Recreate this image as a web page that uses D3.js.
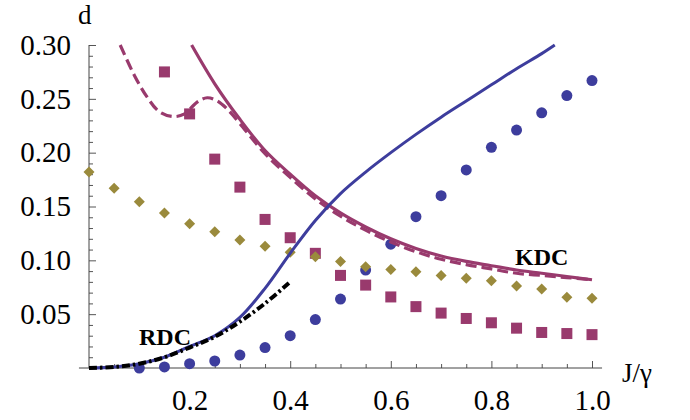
<!DOCTYPE html>
<html>
<head>
<meta charset="utf-8">
<script src="https://cdn.jsdelivr.net/npm/d3@7"></script>
<style>
  body { margin: 0; background: #fff; }
  svg text { font-family: "Liberation Serif", "DejaVu Serif", serif; }
</style>
</head>
<body>
<div id="chart"></div>
<script>
// data
const xTickVals = [0.2, 0.4, 0.6, 0.8, 1.0];
const xTickLabels = ['0.2', '0.4', '0.6', '0.8', '1.0'];
const yTickVals = [0.05, 0.10, 0.15, 0.20, 0.25, 0.30];
const yTickLabels = ['0.05', '0.10', '0.15', '0.20', '0.25', '0.30'];

// blue circles
const circleX = [0.1, 0.15, 0.2, 0.25, 0.3, 0.35, 0.4, 0.45, 0.5, 0.55, 0.6, 0.65, 0.7, 0.75, 0.8, 0.85, 0.9, 0.95, 1.0];
const circleY = [0.000, 0.001, 0.004, 0.0065, 0.012, 0.019, 0.030, 0.045, 0.064, 0.091, 0.115, 0.1405, 0.160, 0.184, 0.205, 0.221, 0.237, 0.253, 0.267];

// magenta squares
const squareX = [0.15, 0.2, 0.25, 0.3, 0.35, 0.4, 0.45, 0.5, 0.55, 0.6, 0.65, 0.7, 0.75, 0.8, 0.85, 0.9, 0.95, 1.0];
const squareY = [0.275, 0.236, 0.194, 0.168, 0.138, 0.121, 0.1065, 0.086, 0.077, 0.066, 0.057, 0.051, 0.046, 0.042, 0.037, 0.033, 0.032, 0.031];

// olive diamonds
const diamondX = [0, 0.05, 0.1, 0.15, 0.2, 0.25, 0.3, 0.35, 0.4, 0.45, 0.5, 0.55, 0.6, 0.65, 0.7, 0.75, 0.8, 0.85, 0.9, 0.95, 1.0];
const diamondY = [0.182, 0.167, 0.1545, 0.144, 0.134, 0.1266, 0.119, 0.113, 0.1074, 0.1034, 0.099, 0.094, 0.0916, 0.0895, 0.0858, 0.0833, 0.081, 0.0762, 0.0734, 0.0657, 0.0647];

// blue solid curve
const blueX = [0, 0.05, 0.1, 0.15, 0.2, 0.25, 0.3, 0.35, 0.4, 0.45, 0.5, 0.55, 0.6, 0.65, 0.7, 0.75, 0.8, 0.85, 0.9, 0.926];
const blueY = [0, 0.001, 0.004, 0.010, 0.020, 0.030, 0.047, 0.074, 0.1065, 0.137, 0.162, 0.182, 0.200, 0.217, 0.233, 0.248, 0.263, 0.278, 0.292, 0.300];

// black dash-dot (RDC)
const rdcX = [0, 0.05, 0.1, 0.15, 0.2, 0.25, 0.3, 0.35, 0.4];
const rdcY = [0, 0.001, 0.004, 0.010, 0.019, 0.029, 0.043, 0.060, 0.080];

// magenta solid (KDC)
const kdcX = [0.204, 0.25, 0.3, 0.35, 0.4, 0.45, 0.5, 0.55, 0.6, 0.65, 0.7, 0.75, 0.8, 0.85, 0.9, 0.95, 1.0];
const kdcY = [0.300, 0.264, 0.231, 0.202, 0.180, 0.160, 0.144, 0.131, 0.120, 0.111, 0.104, 0.099, 0.095, 0.091, 0.088, 0.085, 0.082];

// magenta dashed
const dashX = [0.062, 0.09, 0.115, 0.14, 0.168, 0.19, 0.215, 0.235, 0.255, 0.28, 0.3, 0.35, 0.4, 0.45, 0.5, 0.55, 0.6, 0.65, 0.7, 0.75, 0.8, 0.85, 0.9, 0.95, 1.0];
const dashY = [0.300, 0.272, 0.252, 0.238, 0.2335, 0.236, 0.247, 0.251, 0.248, 0.238, 0.227, 0.199, 0.177, 0.157, 0.141, 0.128, 0.117, 0.108, 0.101, 0.096, 0.092, 0.088, 0.086, 0.084, 0.082];

const blue = '#3d3d9d';
const magenta = '#993a6d';
const olive = '#9a8a3c';

const width = 690, height = 420;
const svg = d3.select('#chart').append('svg')
  .attr('width', width).attr('height', height);

const x = d3.scaleLinear().domain([0, 1]).range([89, 592]);
const y = d3.scaleLinear().domain([0, 0.3]).range([368, 45]);

const pts = (xs, ys) => xs.map((v, i) => [v, ys[i]]);

// axes
const xMinor = d3.range(1, 21).map(i => i * 0.05).filter(v => !xTickVals.some(t => Math.abs(t - v) < 1e-6));
const yMinor = d3.range(1, 31).map(i => i * 0.01).filter(v => !yTickVals.some(t => Math.abs(t - v) < 1e-6));

svg.append('g').attr('transform', `translate(0,${y(0)})`)
  .call(d3.axisBottom(x).tickValues(xTickVals).tickSize(-7).tickPadding(21)
    .tickFormat((d, i) => xTickLabels[i]));
svg.append('g').attr('transform', `translate(0,${y(0)})`)
  .call(d3.axisBottom(x).tickValues(xMinor).tickSize(-4).tickFormat(''));

svg.append('g').attr('transform', `translate(${x(0)},0)`)
  .call(d3.axisLeft(y).tickValues(yTickVals).tickSize(-7).tickPadding(18)
    .tickFormat((d, i) => yTickLabels[i]));
svg.append('g').attr('transform', `translate(${x(0)},0)`)
  .call(d3.axisLeft(y).tickValues(yMinor).tickSize(-4).tickFormat(''));

svg.selectAll('.domain').remove();
svg.selectAll('.tick line').attr('stroke', '#555');
svg.selectAll('.tick text').attr('font-size', 29).attr('fill', '#000')
  .attr('font-family', '"Liberation Serif", serif');

svg.append('line').attr('x1', x(-0.02)).attr('x2', x(1.02))
  .attr('y1', y(0)).attr('y2', y(0)).attr('stroke', '#444');
svg.append('line').attr('x1', x(0)).attr('x2', x(0))
  .attr('y1', y(0)).attr('y2', y(0.3)).attr('stroke', '#444');

svg.append('text').attr('x', 78).attr('y', 24).attr('font-size', 27).text('d');
svg.append('text').attr('x', 622).attr('y', 382).attr('font-size', 27).text('J/γ');

// markers
svg.selectAll('.dot').data(pts(circleX, circleY)).enter().append('circle')
  .attr('class', 'dot')
  .attr('cx', d => x(d[0])).attr('cy', d => y(d[1])).attr('r', 5.5)
  .attr('fill', blue);

svg.selectAll('.sq').data(pts(squareX, squareY)).enter().append('rect')
  .attr('class', 'sq')
  .attr('x', d => x(d[0]) - 5.5).attr('y', d => y(d[1]) - 5.5)
  .attr('width', 11).attr('height', 11)
  .attr('fill', magenta);

svg.selectAll('.dia').data(pts(diamondX, diamondY)).enter().append('path')
  .attr('class', 'dia')
  .attr('d', d => {
    const cx = x(d[0]), cy = y(d[1]), r = 5.5;
    return `M${cx},${cy - r}L${cx + r},${cy}L${cx},${cy + r}L${cx - r},${cy}Z`;
  })
  .attr('fill', olive);

// curves
const line = d3.line().x(d => x(d[0])).y(d => y(d[1])).curve(d3.curveCatmullRom);

svg.append('path').datum(pts(kdcX, kdcY)).attr('d', line)
  .attr('fill', 'none').attr('stroke', magenta).attr('stroke-width', 3.2);

svg.append('path').datum(pts(dashX, dashY)).attr('d', line)
  .attr('fill', 'none').attr('stroke', magenta).attr('stroke-width', 3.2)
  .attr('stroke-dasharray', '11,5');

svg.append('path').datum(pts(blueX, blueY)).attr('d', line)
  .attr('fill', 'none').attr('stroke', blue).attr('stroke-width', 3);

svg.append('path').datum(pts(rdcX, rdcY)).attr('d', line)
  .attr('fill', 'none').attr('stroke', '#000').attr('stroke-width', 4)
  .attr('stroke-dasharray', '8,3,2.5,3');

// labels
svg.append('text').attr('x', 139).attr('y', 345).attr('font-size', 24)
  .attr('font-weight', 'bold').text('RDC');
svg.append('text').attr('x', 515).attr('y', 265).attr('font-size', 24)
  .attr('font-weight', 'bold').text('KDC');
</script>
</body>
</html>
